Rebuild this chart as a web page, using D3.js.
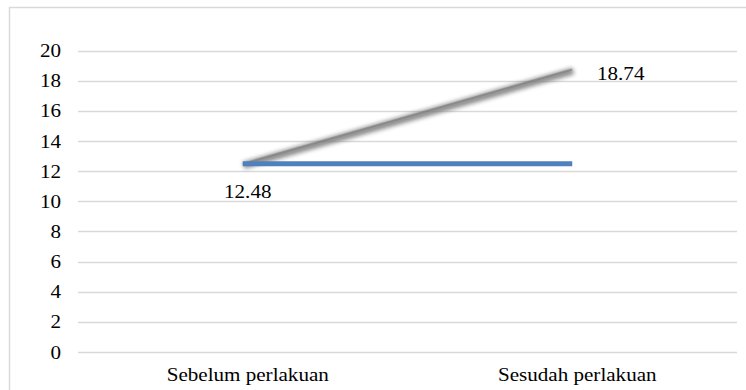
<!DOCTYPE html>
<html><head><meta charset="utf-8">
<script src="https://cdn.jsdelivr.net/npm/d3@7"></script>
<style>body{margin:0;background:#fff}svg{display:block}</style>
</head><body>
<script>
const categories = ["Sebelum perlakuan", "Sesudah perlakuan"];
const seriesGrey = [12.48, 18.74];
const seriesBlue = [12.48, 12.48];
const yTicks = [0, 2, 4, 6, 8, 10, 12, 14, 16, 18, 20];

const W = 746, H = 390;
const FONT = "'Liberation Serif', 'Times New Roman', serif";
const SX = "scale(1.11,1)";
const svg = d3.select("body").append("svg").attr("width", W).attr("height", H);
svg.append("rect").attr("x", 9.5).attr("y", 7.5).attr("width", W).attr("height", H + 10)
  .attr("fill", "#fff").attr("stroke", "#d9d9d9").attr("stroke-width", 1.5);

const x = d3.scaleBand().domain(categories).range([78, 737]);
const y = d3.scaleLinear().domain([0, 20]).range([352, 50.5]);

const defs = svg.append("defs");
defs.append("filter").attr("id", "blur").attr("x", "-10%").attr("y", "-50%").attr("width", "120%").attr("height", "200%")
  .append("feGaussianBlur").attr("stdDeviation", 2.3);

const grid = svg.append("g");
grid.selectAll("line").data(yTicks).join("line")
  .attr("x1", 78).attr("x2", 737)
  .attr("y1", d => Math.round(y(d)) + 0.5).attr("y2", d => Math.round(y(d)) + 0.5)
  .attr("stroke", "#d9d9d9").attr("stroke-width", 1.5);

const yAxis = d3.axisLeft(y).tickValues(yTicks).tickSize(0).tickPadding(0);
const ga = svg.append("g").attr("transform", "translate(61,0)").call(yAxis);
ga.select(".domain").remove();
ga.selectAll("text").style("font-size", "19px").style("font-family", FONT).attr("fill", "#000")
  .attr("dy", "0.32em").attr("transform", SX);

const xAxis = d3.axisBottom(x).tickSize(0).tickPadding(0);
const gx = svg.append("g").attr("transform", "translate(5,381)").call(xAxis);
gx.select(".domain").remove();
gx.selectAll("text").style("font-size", "19px").style("font-family", FONT).attr("fill", "#000")
  .attr("dy", 0).attr("transform", SX);

const cx = d => x(d) + x.bandwidth() / 2;
const line = d3.line().x((d, i) => cx(categories[i])).y(d => y(d));

// grey line with soft shadow
svg.append("path").datum(seriesGrey).attr("d", line).attr("fill", "none")
  .attr("transform", "translate(1,1.5)")
  .attr("stroke", "#7f7f7f").attr("stroke-width", 7).attr("filter", "url(#blur)").attr("opacity", 0.9);
svg.append("path").datum(seriesGrey).attr("d", line).attr("fill", "none")
  .attr("stroke", "#707070").attr("stroke-width", 2).attr("opacity", 0.5);

svg.append("path").datum(seriesBlue).attr("d", line).attr("fill", "none")
  .attr("stroke", "#4f81bd").attr("stroke-width", 5);

const lab = svg.append("g");
lab.append("text").attr("transform", `translate(${cx(categories[0]) + 5},197.5) ${SX}`).attr("text-anchor", "middle")
  .style("font-size", "19px").style("font-family", FONT).text(seriesGrey[0].toFixed(2));
lab.append("text").attr("transform", `translate(597,80) ${SX}`).attr("text-anchor", "start")
  .style("font-size", "19px").style("font-family", FONT).text(seriesGrey[1].toFixed(2));
</script>
</body></html>
